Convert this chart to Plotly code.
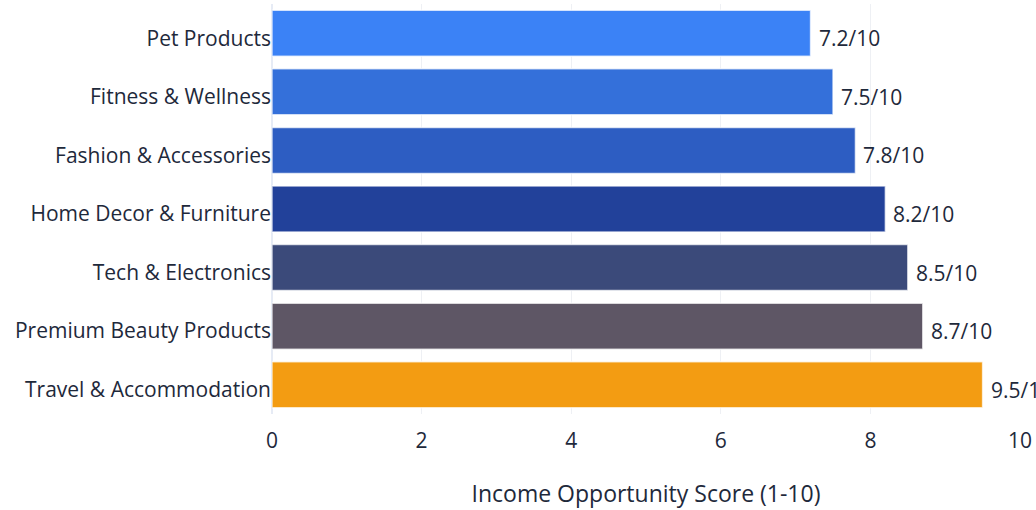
import plotly.graph_objects as go

categories = ["Travel & Accommodation", "Premium Beauty Products", "Tech & Electronics",
              "Home Decor & Furniture", "Fashion & Accessories", "Fitness & Wellness", "Pet Products"]
scores = [9.5, 8.7, 8.5, 8.2, 7.8, 7.5, 7.2]
colors = ["#F39C12", "#5E5665", "#3B4A7A", "#22419A", "#2D5DC2", "#3470DA", "#3B82F6"]
labels = [f"{v}/10" for v in scores]

FONT = "'Open Sans', sans-serif"
TXT = "#1e293b"

fig = go.Figure(go.Bar(
    y=categories, x=scores, orientation="h",
    marker=dict(color=colors, line=dict(color="rgba(255,255,255,0.7)", width=1.5)),
    hoverinfo="x+y",
))
for c, v, t in zip(categories, scores, labels):
    fig.add_annotation(x=v, y=c, text=t, showarrow=False, xanchor="left",
                       xshift=6, yshift=-5, font=dict(size=21, color=TXT, family=FONT))

fig.update_layout(
    width=1036, height=510,
    margin=dict(l=272, r=14, t=4, b=96),
    plot_bgcolor="white", paper_bgcolor="white",
    font=dict(family=FONT, size=21, color=TXT),
    bargap=0.215, showlegend=False,
    xaxis=dict(range=[0, 10], dtick=2, showgrid=True, gridcolor="#eef0f4",
               zeroline=True, zerolinecolor="#e6ebf5", zerolinewidth=2,
               ticklabelstandoff=12,
               title=dict(text="Income Opportunity Score (1-10)", font=dict(size=23), standoff=32),
               tickfont=dict(size=21)),
    yaxis=dict(tickfont=dict(size=21), showgrid=False, ticklabelshift=5),
)
fig.write_html("out.html", config={"displayModeBar": False},
               post_script="document.body.style.margin='0';")
